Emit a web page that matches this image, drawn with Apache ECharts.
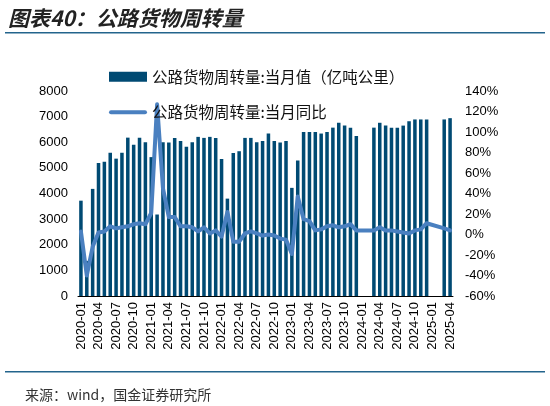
<!DOCTYPE html>
<html>
<head>
<meta charset="utf-8">
<script src="https://cdn.jsdelivr.net/npm/echarts@6/dist/echarts.min.js"></script>
<style>
  html, body { margin: 0; padding: 0; background: #fff; }
  #chart { width: 550px; height: 406px; }
</style>
</head>
<body>
<div id="chart"></div>
<script>
// 月份 2020-01 ~ 2025-04
var months = [];
for (var y = 2020; y <= 2025; y++) {
  for (var m = 1; m <= 12; m++) {
    if (y === 2025 && m > 4) break;
    months.push(y + '-' + (m < 10 ? '0' + m : m));
  }
}

// 公路货物周转量:当月值（亿吨公里）
var monthValue = [
  3720, 1370, 4180, 5190, 5240, 5590, 5360, 5590, 6180, 5900, 6180, 6000,
  5420, 3180, 6000, 5990, 6170, 6050, 5820, 6000, 6210, 6170, 6210, 6170,
  5350, 3800, 5580, 5650, 6170, 6170, 6000, 6050, 6340, 6050, 5990, 6050,
  4220, 5290, 6400, 6400, 6400, 6340, 6400, 6570, 6760, 6650, 6570, 6240,
  null, null, 6570, 6760, 6650, 6570, 6570, 6650, 6820, 6890, 6890, 6890,
  null, null, 6890, 6940
];

// 公路货物周转量:当月同比（%）
var yoyValue = [
  3, -40, -12, 2, 3, 8, 6, 7, 8, 10, 11, 10,
  21, 127, 45, 17, 17, 8, 8, 7, 3, 7, 1, 4,
  -2, 22, -7, -7, 1, 3, 1, -1, 0, -1, -4, -5,
  -19, 37, 15, 13, 4, 5, 8, 9, 7, 8, 10, 4,
  null, null, 4, 7, 4, 4, 3, 2, 1, 4, 5, 11,
  null, null, 6, 4
];

var barName = '公路货物周转量:当月值（亿吨公里）';
var lineName = '公路货物周转量:当月同比';

var chart = echarts.init(document.getElementById('chart'));

chart.setOption({
  backgroundColor: '#ffffff',
  animation: false,
  title: [{
    text: '图表40：公路货物周转量',
    left: 3,
    top: 3,
    textStyle: {
      fontFamily: 'Noto Sans CJK SC',
      fontSize: 21,
      fontWeight: 'bold',
      fontStyle: 'italic',
      color: '#222'
    }
  }, {
    text: '来源：wind，国金证券研究所',
    left: 20,
    top: 383,
    textStyle: {
      fontFamily: 'Noto Sans CJK SC',
      fontSize: 14,
      fontWeight: 'normal',
      color: '#333'
    }
  }],
  graphic: [
    { type: 'rect', shape: { x: 5, y: 32, width: 540, height: 1.5 }, style: { fill: '#23648c' } },
    { type: 'rect', shape: { x: 5, y: 371, width: 540, height: 1.5 }, style: { fill: '#23648c' } }
  ],
  legend: {
    orient: 'vertical',
    left: 104,
    top: 64,
    itemWidth: 38,
    itemHeight: 10,
    itemGap: 20,
    textStyle: {
      fontFamily: 'Noto Sans CJK SC',
      fontSize: 15.5,
      color: '#111'
    },
    data: [
      { name: barName, icon: 'rect' },
      { name: lineName, icon: 'path://M2,0 L36,0 A2,2 0 0 1 36,4 L2,4 A2,2 0 0 1 2,0 Z' }
    ]
  },
  grid: {
    left: 78,
    right: 97,
    top: 91,
    bottom: 110
  },
  xAxis: {
    type: 'category',
    data: months,
    boundaryGap: true,
    axisLine: { lineStyle: { color: '#000', width: 1 } },
    axisTick: { interval: 2, length: 4, lineStyle: { color: '#000' } },
    axisLabel: {
      interval: 2,
      rotate: 90,
      margin: 6,
      fontFamily: 'Liberation Sans',
      fontSize: 13,
      color: '#000'
    }
  },
  yAxis: [{
    type: 'value',
    min: 0,
    max: 8000,
    interval: 1000,
    axisLine: { show: false },
    axisTick: { show: false },
    splitLine: { show: false },
    axisLabel: {
      margin: 10,
      formatter: function (v) { return String(v); },
      fontFamily: 'Liberation Sans',
      fontSize: 13,
      color: '#000'
    }
  }, {
    type: 'value',
    min: -60,
    max: 140,
    interval: 20,
    axisLine: { show: false },
    axisTick: { show: false },
    splitLine: { show: false },
    axisLabel: {
      margin: 12,
      formatter: '{value}%',
      fontFamily: 'Liberation Sans',
      fontSize: 13,
      color: '#000'
    }
  }],
  series: [{
    name: barName,
    type: 'bar',
    data: monthValue,
    barCategoryGap: '40%',
    itemStyle: { color: '#004a73' }
  }, {
    name: lineName,
    type: 'line',
    yAxisIndex: 1,
    data: yoyValue,
    connectNulls: true,
    symbol: 'none',
    lineStyle: { color: '#4a80c0', width: 4, cap: 'round', join: 'round' },
    itemStyle: { color: '#4a80c0' },
    z: 3
  }]
});
</script>
</body>
</html>
